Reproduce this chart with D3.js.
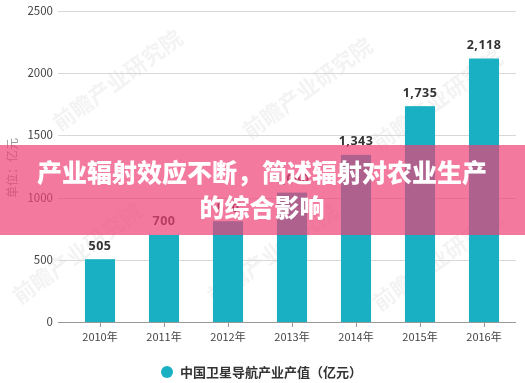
<!DOCTYPE html>
<html><head><meta charset="utf-8">
<script src="https://cdn.jsdelivr.net/npm/d3@7"></script>
<style>html,body{margin:0;padding:0;background:#fff;}svg{display:block;}</style>
</head><body>
<svg id="c" width="525" height="383"></svg>
<script>
const categories = ["2010年","2011年","2012年","2013年","2014年","2015年","2016年"];
const seriesValues = [505, 700, 810, 1040, 1343, 1735, 2118];
const yTicks = [0, 500, 1000, 1500, 2000, 2500];
const seriesName = "中国卫星导航产业产值（亿元）";
const yTitle = "单位：亿元";
const titleLines = ["产业辐射效应不断，简述辐射对农业生产", "的综合影响"];
const watermarkText = "前瞻产业研究院";

const svg = d3.select("#c");
const W = 525, H = 383;
const plotLeft = 58, plotRight = 516;
const x = d3.scaleBand().domain(categories).range([68, 516]).paddingInner(0.53).paddingOuter(0.265);
const y = d3.scaleLinear().domain([0, 2500]).range([322, 11]);

// watermarks
const wm = svg.append("g").attr("fill", "#000").attr("opacity", 0.05)
  .style("font-family", "'Noto Sans CJK SC', sans-serif").style("font-weight", 700).style("font-size", "22px");
[[60,132],[250,140],[380,152],[215,305],[380,312],[20,305]].forEach(p => {
  wm.append("text").attr("transform", `translate(${p[0]},${p[1]}) rotate(-36)`).text(watermarkText);
});

// gridlines
svg.append("g").selectAll("line").data(yTicks.filter(d => d > 0)).join("line")
  .attr("x1", plotLeft).attr("x2", plotRight)
  .attr("y1", d => Math.round(y(d)) + 0.5).attr("y2", d => Math.round(y(d)) + 0.5)
  .attr("stroke", "#d8d8d8").attr("stroke-width", 1);

// y tick labels
svg.append("g").selectAll("text").data(yTicks).join("text")
  .attr("x", 53).attr("y", d => y(d)).attr("dy", "0.35em")
  .attr("text-anchor", "end").attr("fill", "#444")
  .style("font-family", "'Noto Sans CJK SC', sans-serif").style("font-size", "11.5px")
  .text(d => d);

// y title
svg.append("text").attr("transform", "translate(17,168) rotate(-90)")
  .attr("text-anchor", "middle").attr("fill", "#999")
  .style("font-family", "'Noto Sans CJK SC', sans-serif").style("font-size", "12px")
  .text(yTitle);

// bars
svg.append("g").selectAll("rect").data(seriesValues).join("rect")
  .attr("x", (d, i) => x(categories[i])).attr("width", x.bandwidth())
  .attr("y", d => y(d)).attr("height", d => y(0) - y(d))
  .attr("fill", "#19b0c3");

// x axis
const xAxis = svg.append("g").attr("transform", `translate(0,${y(0)})`);
xAxis.append("line").attr("x1", plotLeft).attr("x2", plotRight).attr("y1", 0.5).attr("y2", 0.5).attr("stroke", "#999");
xAxis.selectAll("line.t").data(categories).join("line").attr("class", "t")
  .attr("x1", d => x(d) + x.bandwidth() / 2 + 0.5).attr("x2", d => x(d) + x.bandwidth() / 2 + 0.5)
  .attr("y1", 0).attr("y2", 5).attr("stroke", "#999");
xAxis.selectAll("text").data(categories).join("text")
  .attr("x", d => x(d) + x.bandwidth() / 2).attr("y", 15).attr("dy", "0.35em")
  .attr("text-anchor", "middle").attr("fill", "#444")
  .style("font-family", "'Noto Sans CJK SC', sans-serif").style("font-size", "11px")
  .text(d => d);

// data labels
const fmt = d3.format(",");
svg.append("g").selectAll("text").data(seriesValues).join("text")
  .attr("x", (d, i) => x(categories[i]) + x.bandwidth() / 2)
  .attr("y", d => y(d) - 14).attr("dy", "0.35em")
  .attr("text-anchor", "middle").attr("fill", "#333")
  .style("font-family", "'Open Sans', sans-serif").style("font-weight", 700).style("font-size", "12.5px")
  .style("letter-spacing", "0.5px")
  .text(d => fmt(d));

// legend
const lg = svg.append("g");
lg.append("circle").attr("cx", 167).attr("cy", 372).attr("r", 6).attr("fill", "#19b0c3");
lg.append("text").attr("x", 180).attr("y", 372).attr("dy", "0.35em").attr("fill", "#333")
  .style("font-family", "'Noto Sans CJK SC', sans-serif").style("font-weight", 700).style("font-size", "13px")
  .text(seriesName);

// banner
svg.append("rect").attr("x", 0).attr("y", 145).attr("width", W).attr("height", 90)
  .attr("fill", "rgb(238,64,118)").attr("fill-opacity", 0.7);
svg.append("g").selectAll("text").data(titleLines).join("text")
  .attr("x", 262).attr("y", (d, i) => 173 + i * 35).attr("dy", "0.36em")
  .attr("text-anchor", "middle").attr("fill", "#fff")
  .style("font-family", "'Noto Sans CJK SC', sans-serif").style("font-weight", 900).style("font-size", "25px")
  .text(d => d);
</script>
</body></html>
